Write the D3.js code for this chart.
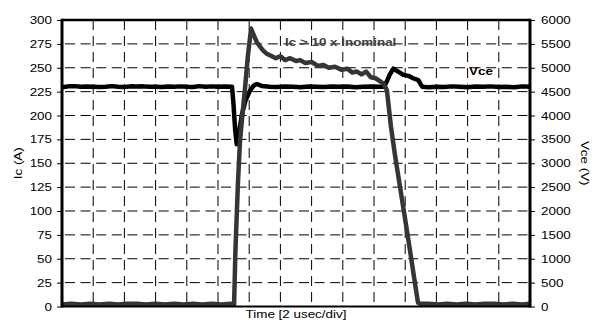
<!DOCTYPE html>
<html>
<head>
<meta charset="utf-8">
<script src="https://cdn.jsdelivr.net/npm/d3@7"></script>
<style>
  html, body { margin: 0; padding: 0; background: #fff; }
  svg { display: block; }
  text { font-family: "Liberation Sans", Arial, sans-serif; }
</style>
</head>
<body>
<svg id="chart" width="593" height="323"></svg>
<script>
// ---- Data (time in usec, 2 usec per division) ----
const icTicks = [0, 25, 50, 75, 100, 125, 150, 175, 200, 225, 250, 275, 300];
const vceTicks = [0, 500, 1000, 1500, 2000, 2500, 3000, 3500, 4000, 4500, 5000, 5500, 6000];
const timeGrid = [2, 4, 6, 8, 10, 12, 14, 16, 18, 20, 22, 24, 26, 28];

const icTime = [0, 0.6, 1.2, 1.8, 2.4, 3.0, 3.6, 4.2, 4.8, 5.4, 6.0, 6.6, 7.2, 7.8, 8.4, 9.0, 9.6, 10.2, 10.8, 11.03,
  11.12, 11.28, 11.41, 11.56, 11.73, 11.90, 12.12, 12.30, 12.48, 12.70, 12.90, 13.10, 13.33,
  13.7, 14.0, 14.3, 14.62, 15.0, 15.26, 15.6, 16.0, 16.4, 16.73, 17.1, 17.5, 17.9, 18.3, 18.6, 18.91, 19.2, 19.5, 19.8, 20.1, 20.38, 20.64,
  20.83, 21.09, 21.35, 21.67, 21.99, 22.37, 22.63, 22.82, 22.95,
  23.5, 24.1, 24.7, 25.3, 25.9, 26.5, 27.1, 27.7, 28.3, 28.9, 29.5, 30];
const icValues = [2, 3, 2, 3, 2, 3, 2, 3, 3, 2, 3, 2, 3, 2, 3, 2, 3, 2, 3, 2,
  60, 130, 173, 200, 228, 260, 291, 284, 277, 272, 268, 265, 263,
  260, 262, 258, 260, 257, 258, 255, 256, 252, 253, 250, 251, 248, 249, 245, 246, 243, 246, 240, 239, 236, 233,
  226, 188, 158, 125, 92, 52, 24, 4, 3,
  3, 2, 3, 2, 3, 2, 3, 3, 2, 3, 2, 3];

const vceTime = [0, 0.4, 0.8, 1.2, 1.6, 2.0, 2.4, 2.8, 3.2, 3.6, 4.0, 4.4, 4.8, 5.2, 5.6, 6.0, 6.4, 6.8, 7.2, 7.6, 8.0, 8.4, 8.8, 9.2, 9.6, 10.0, 10.4, 10.9,
  10.99, 11.1, 11.2, 11.3, 11.52, 11.75, 12.05, 12.3, 12.48, 12.8, 13.33,
  13.8, 14.3, 14.8, 15.3, 15.8, 16.3, 16.8, 17.3, 17.8, 18.3, 18.8, 19.3, 19.8, 20.3, 20.65,
  20.8, 21.0, 21.24, 21.5, 21.88, 22.2, 22.5, 22.84, 23.0, 23.1,
  23.5, 24.0, 24.5, 25.0, 25.5, 26.0, 26.5, 27.0, 27.5, 28.0, 28.5, 29.0, 29.5, 30];
const vceValues = [4590, 4610, 4615, 4600, 4605, 4600, 4595, 4600, 4615, 4600, 4595, 4610, 4605, 4610, 4600, 4600, 4595, 4605, 4600, 4610, 4600, 4595, 4615, 4600, 4610, 4600, 4605, 4600,
  4250, 3700, 3400, 3550, 4000, 4300, 4520, 4630, 4660, 4620, 4600,
  4595, 4605, 4600, 4590, 4605, 4600, 4595, 4605, 4600, 4605, 4590, 4600, 4605, 4600, 4600,
  4700, 4850, 4980, 4930, 4850, 4830, 4780, 4740, 4650, 4600,
  4590, 4600, 4595, 4610, 4600, 4590, 4605, 4600, 4610, 4595, 4600, 4590, 4610, 4600];

// ---- Layout ----
const svg = d3.select("#chart");
const L = 62, R = 530, T = 20, B = 306.5;
const x = d3.scaleLinear().domain([0, 30]).range([L, R]);
const yI = d3.scaleLinear().domain([0, 300]).range([B, T]);
const yV = d3.scaleLinear().domain([0, 6000]).range([B, T]);
const SX = 1.22;

// grid
const grid = svg.append("g");
grid.selectAll("line.h").data(icTicks.filter(d => d > 0 && d < 300)).join("line")
  .attr("x1", L).attr("x2", R).attr("y1", d => yI(d)).attr("y2", d => yI(d))
  .attr("stroke", "#000").attr("stroke-width", 1).attr("stroke-dasharray", "10,5.6").attr("stroke-dashoffset", -3);
grid.selectAll("line.v").data(timeGrid).join("line")
  .attr("x1", d => x(d)).attr("x2", d => x(d)).attr("y1", T).attr("y2", B)
  .attr("stroke", "#000").attr("stroke-width", 1).attr("stroke-dasharray", "10,6");

// lines
const lineV = d3.line().x((d, i) => x(vceTime[i])).y(d => yV(d));
const lineI = d3.line().x((d, i) => x(icTime[i])).y(d => yI(d));
svg.append("path").datum(vceValues).attr("d", lineV)
  .attr("fill", "none").attr("stroke", "#000").attr("stroke-width", 4.5).attr("stroke-linejoin", "round");
svg.append("path").datum(icValues).attr("d", lineI)
  .attr("fill", "none").attr("stroke", "#353535").attr("stroke-width", 4.5).attr("stroke-linejoin", "round");

// frame
svg.append("line").attr("x1", L).attr("x2", R).attr("y1", T).attr("y2", T).attr("stroke", "#000").attr("stroke-width", 2.7);
svg.append("line").attr("x1", L).attr("x2", R).attr("y1", B).attr("y2", B).attr("stroke", "#000").attr("stroke-width", 2);

// axes
const axL = svg.append("g").attr("transform", `translate(${L},0)`)
  .call(d3.axisLeft(yI).tickValues(icTicks).tickFormat(d3.format("d")).tickSize(5).tickPadding(5));
const axR = svg.append("g").attr("transform", `translate(${R},0)`)
  .call(d3.axisRight(yV).tickValues(vceTicks).tickFormat(d3.format("d")).tickSize(5).tickPadding(6));
[axL, axR].forEach(a => {
  a.select(".domain").attr("stroke", "#000").attr("stroke-width", 3);
  a.selectAll(".tick line").attr("stroke", "#000").attr("stroke-width", 1);
  a.selectAll(".tick text").attr("font-size", 11).attr("fill", "#000")
    .attr("font-family", "'Liberation Sans', Arial, sans-serif");
  a.selectAll(".tick text").each(function () {
    const t = d3.select(this); const xx = +t.attr("x");
    t.attr("x", 0).attr("transform", `translate(${xx},0) scale(${SX},1)`);
  });
  a.select(".domain").attr("d", `M0,${T - 1.3}V${B + 1}`);
});

// labels
svg.append("text").attr("transform", `translate(${(L + R) / 2},318) scale(${SX},1)`)
  .attr("text-anchor", "middle").attr("font-size", 11).text("Time [2 usec/div]");
svg.append("text").attr("transform", `translate(18,${(T + B) / 2}) rotate(-90) scale(${SX},1)`)
  .attr("text-anchor", "middle").attr("dominant-baseline", "central").attr("font-size", 11).text("Ic (A)");
svg.append("text").attr("transform", `translate(585,${(T + B) / 2}) rotate(90) scale(${SX},1)`)
  .attr("text-anchor", "middle").attr("dominant-baseline", "central").attr("font-size", 11).text("Vce (V)");

// annotations
svg.append("text").attr("transform", `translate(285,46) scale(${SX},1)`)
  .attr("font-size", 11).attr("font-weight", "bold").attr("fill", "#404040").text("Ic > 10 x Inominal");
svg.append("text").attr("transform", `translate(469,75) scale(${SX},1)`)
  .attr("font-size", 11).attr("font-weight", "bold").attr("fill", "#000").text("Vce");
</script>
</body>
</html>
